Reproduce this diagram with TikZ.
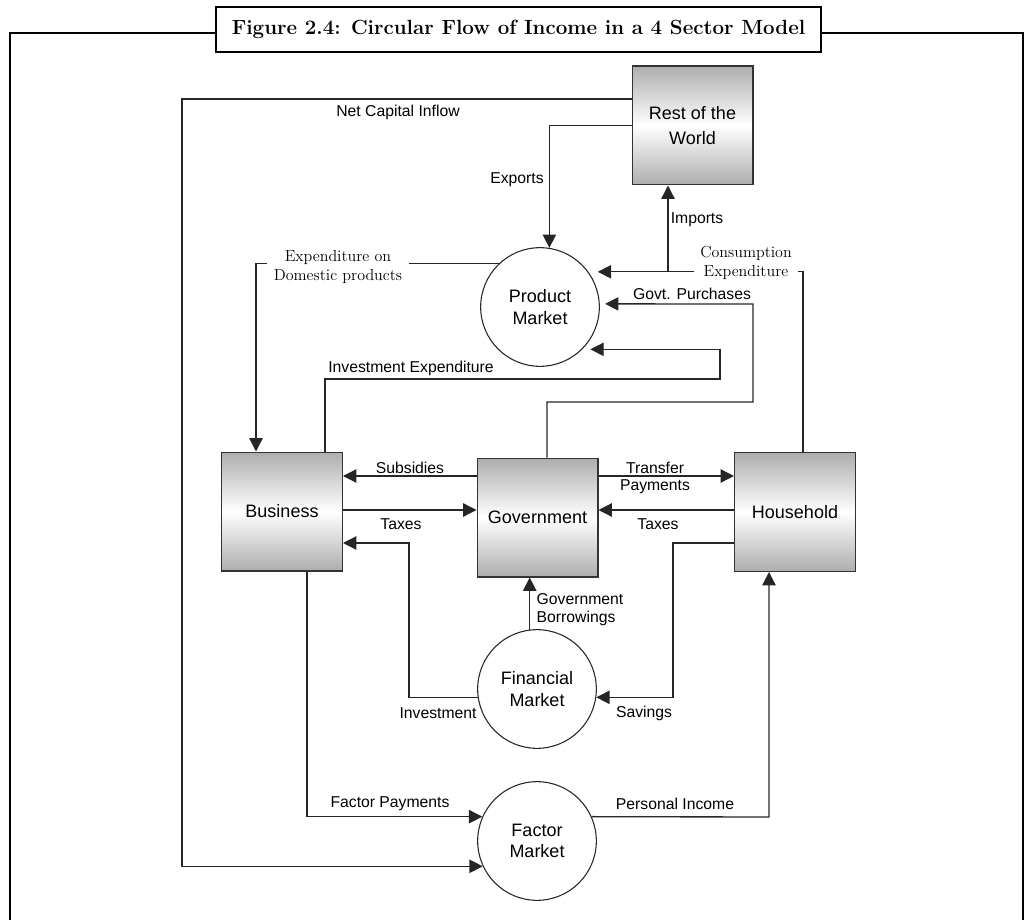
\documentclass[tikz,border=0pt]{standalone}
\usepackage{fontspec}
\setsansfont{Liberation Sans}
\usetikzlibrary{arrows.meta}

\begin{document}
\begin{tikzpicture}[x=0.75pt, y=-0.75pt,
  sector/.style={rectangle, draw=black!80, line width=1pt, top color=black!32, bottom color=black!32, middle color=white, minimum width=90.5pt, minimum height=89pt, inner sep=2pt, align=center, font=\sffamily\fontsize{13.5}{18.5}\selectfont},
  market/.style={circle, draw=black!85, line width=0.8pt, fill=white, minimum size=89pt, inner sep=0pt, align=center, font=\sffamily\fontsize{13.5}{16}\selectfont},
  flow/.style={draw=black!85, line width=1pt, -{Triangle[length=10pt, width=10pt]}},
  lbl/.style={font=\sffamily\fontsize{11.8}{13.5}\selectfont, inner sep=1pt},
  rmlbl/.style={font=\fontsize{12}{14}\selectfont, align=center, fill=white, inner sep=5pt}]
\useasboundingbox (0, 0) rectangle (1028, 920);

\draw[line width=2pt] (10, 920) -- (10, 33) -- (1023, 33) -- (1023, 920);
\node[rectangle, draw=black, line width=1.6pt, fill=white, minimum width=453.75pt, minimum height=33.75pt, font=\bfseries\fontsize{15.4}{17}\selectfont] (title) at (518.5, 29.5) {Figure 2.4: Circular Flow of Income in a 4 Sector Model};

\node[sector] (row) at (692.5, 125.5) {Rest of the\\World};
\node[sector] (bus) at (282, 511.5) {Business};
\node[sector] (gov) at (537.5, 517.5) {Government};
\node[sector] (hh) at (795, 512) {Household};
\node[market] (pm) at (540, 307) {Product\\Market};
\node[market] (fm) at (537, 689) {Financial\\Market};
\node[market] (fcm) at (537, 841) {Factor\\Market};

\coordinate (nci) at (182, 99);
\coordinate (edp) at (256, 264);
\coordinate (ie) at (325, 379);
\coordinate (iex) at (720, 379);
\coordinate (gpa) at (547, 402);
\coordinate (gpb) at (753, 304);
\coordinate (ce) at (803, 272);
\coordinate (imp) at (668, 272);
\coordinate (sub) at (0, 476);
\coordinate (tax) at (0, 510);
\coordinate (inv) at (409, 543);
\coordinate (sav) at (673, 543);
\coordinate (fp) at (307, 817);
\coordinate (pi) at (769, 817);

\draw[flow] (row.west |- nci) -- (nci) |- (fcm.205);
\draw[flow] (row.west) -| (pm.81);
\draw[flow, shorten >=7pt] (hh.north -| ce) |- (pm.36);
\draw[flow] (imp) -- (row.south -| imp);
\draw[flow, shorten >=4pt] (gov.north -| gpa) -- (gpa) -| (gpb) -- (pm.3);
\draw[flow, shorten >=6pt] (bus.north -| ie) |- (iex) |- (pm.-45);
\draw[flow] (pm.133) -| (bus.north -| edp);
\draw[flow] (gov.west |- sub) -- (bus.east |- sub);
\draw[flow] (bus.east |- tax) -- (gov.west |- tax);
\draw[flow] (gov.east |- sub) -- (hh.west |- sub);
\draw[flow] (hh.west |- tax) -- (gov.east |- tax);
\draw[flow] (fm.188) -| (inv) -- (bus.east |- inv);
\draw[flow] (hh.west |- sav) -- (sav) |- (fm.-8);
\draw[flow] (fm.97) -- (gov.south -| fm.97);
\draw[flow] (bus.south -| fp) |- (fcm.156);
\draw[flow] (fcm.24) -- (pi) -- (hh.south -| pi);

\node[lbl] (ncil) at (398, 112) {Net Capital Inflow};
\node[lbl] (expl) at (517, 180) {Exports};
\node[lbl] (impl) at (697, 220) {Imports};
\node[rmlbl] (cel) at (746, 263) {Consumption\\Expenditure};
\node[rmlbl] (edpl) at (338, 267) {Expenditure on\\Domestic products};
\node[lbl] (gpl) at (692, 294) {Govt. Purchases};
\node[lbl] (iel) at (411, 368) {Investment Expenditure};
\node[lbl] (subl) at (410, 468) {Subsidies};
\node[lbl] (taxbl) at (401, 524) {Taxes};
\node[lbl] (trl) at (655, 468) {Transfer};
\node[lbl] (pmtl) at (655, 487) {Payments};
\node[lbl] (taxhl) at (658, 524) {Taxes};
\node[lbl, align=left] (gbl) at (580, 610) {Government\\Borrowings};
\node[lbl] (invl) at (438, 713) {Investment};
\node[lbl] (savl) at (644, 713) {Savings};
\node[lbl] (fpl) at (390, 804) {Factor Payments};
\node[lbl] (pil) at (675, 804) {Personal Income};

\end{tikzpicture}
\end{document}
